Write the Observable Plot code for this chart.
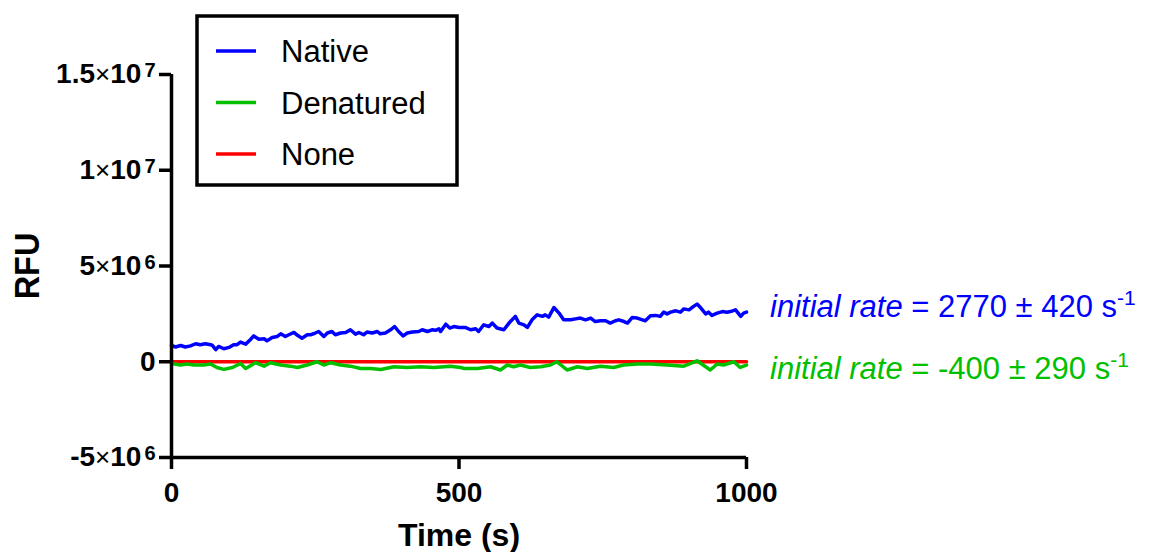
<!DOCTYPE html>
<html><head><meta charset="utf-8">
<script src="https://cdn.jsdelivr.net/npm/d3@7"></script>
<script src="https://cdn.jsdelivr.net/npm/@observablehq/plot@0.6"></script>
<style>
html,body{margin:0;padding:0;background:#fff;}
#chart{width:1151px;height:552px;}
</style>
</head><body><div id="chart"></div>
<script>
const seriesNames = ["Native", "Denatured", "None"];
const seriesColors = ["#0000ff", "#00c000", "#ff0000"];

const nativeTime = [0,7,16,24,33,42,50,59,68,71,77,82,91,100,108,114,120,129,137,143,152,161,166,175,184,190,198,204,213,219,227,236,
  242,250,256,265,271,279,285,294,303,311,320,326,334,340,349,358,363,372,381,388,395,403,410,419,430,436,445,453,459,465,468,477,484,491,500,
  511,520,529,534,543,552,558,566,578,587,598,604,613,619,627,636,645,650,656,665,674,682,694,703,711,720,729,737,
  746,755,763,772,778,787,793,801,810,819,824,833,842,850,856,862,868,877,885,891,900,908,914,920,929,934,940,949,958,966,972,981,990,995,1000];
const nativeRFU = [0.85,0.77,0.85,0.77,0.83,0.94,0.89,0.94,0.89,0.85,0.63,0.80,0.68,0.75,0.89,0.89,1.03,0.92,1.15,1.35,1.18,1.20,1.09,1.27,1.32,1.46,1.32,1.41,1.53,1.38,1.23,1.41,
  1.41,1.50,1.58,1.32,1.50,1.58,1.41,1.50,1.53,1.67,1.44,1.53,1.41,1.55,1.50,1.58,1.46,1.50,1.67,1.84,1.58,1.35,1.50,1.55,1.58,1.67,1.58,1.67,1.64,1.72,1.58,1.96,1.76,1.84,1.79,
  1.79,1.67,1.72,1.58,1.93,1.84,2.02,1.76,1.67,2.02,2.37,2.02,1.93,1.79,2.19,2.45,2.37,2.45,2.33,2.83,2.54,2.19,2.19,2.24,2.28,2.19,2.28,2.10,
  2.14,2.14,2.02,2.14,2.19,2.10,2.02,2.31,2.28,2.19,2.14,2.40,2.42,2.37,2.59,2.50,2.59,2.66,2.59,2.76,2.71,2.89,3.01,2.83,2.50,2.59,2.42,2.54,2.62,2.59,2.62,2.71,2.37,2.54,2.59];

const denaturedTime = [0,16,27,39,56,68,79,91,106,120,129,146,161,172,190,207,219,236,253,265,277,294,311,329,346,364,387,410,433,456,474,485,503,508,532,555,572,584,595,607,624,642,659,670,688,706,723,746,769,786,810,833,862,891,914,937,949,960,978,989,1000];
const denaturedRFU = [-0.09,-0.17,-0.12,-0.17,-0.17,-0.12,-0.30,-0.40,-0.30,-0.09,-0.35,-0.05,-0.23,-0.05,-0.17,-0.23,-0.30,-0.17,0,-0.17,-0.05,-0.17,-0.23,-0.35,-0.35,-0.40,-0.26,-0.30,-0.26,-0.30,-0.26,-0.23,-0.30,-0.35,-0.35,-0.26,-0.43,-0.17,-0.26,-0.17,-0.30,-0.26,-0.17,0,-0.43,-0.26,-0.35,-0.23,-0.30,-0.17,-0.12,-0.12,-0.17,-0.23,0.05,-0.43,-0.12,-0.17,0,-0.30,-0.17];

const noneTime = [0, 1000];
const noneRFU = [0, 0];

const rfuUnit = 1e6;
const yTicks = [-5e6, 0, 5e6, 1e7, 1.5e7];
const yTickLabels = ["-5×10^6", "0", "5×10^6", "1×10^7", "1.5×10^7"];
const xTicks = [0, 500, 1000];
const xLabel = "Time (s)";
const yLabel = "RFU";
const rateLabels = ["2770 ± 420", "-400 ± 290"];
const rateColors = ["#0000ff", "#00c000"];

const rows = [];
noneTime.forEach((t, i) => rows.push({series: "None", t, rfu: noneRFU[i] * rfuUnit}));
denaturedTime.forEach((t, i) => rows.push({series: "Denatured", t, rfu: denaturedRFU[i] * rfuUnit}));
nativeTime.forEach((t, i) => rows.push({series: "Native", t, rfu: nativeRFU[i] * rfuUnit}));

const font = "'Liberation Sans',Arial,sans-serif";

const plot = Plot.plot({
  width: 1151, height: 552,
  marginLeft: 171, marginRight: 405, marginTop: 74, marginBottom: 95,
  style: {fontFamily: font, background: "#fff", overflow: "visible", color: "#000"},
  x: {domain: [0, 1000]},
  y: {domain: [-5e6, 1.5e7]},
  color: {domain: seriesNames, range: seriesColors},
  marks: [
    Plot.line(rows, {x: "t", y: "rfu", z: "series", stroke: "series", strokeWidth: 3.5}),
    Plot.ruleX([0], {y1: -5e6, y2: 1.5e7, strokeWidth: 3.5, stroke: "#000"}),
    Plot.ruleY([-5e6], {x1: 0, x2: 1000, strokeWidth: 3.5, stroke: "#000"}),
    Plot.axisY({ticks: yTicks, tickSize: 12, tickPadding: 4, strokeWidth: 3.5, fontSize: 28, fontWeight: "bold",
      tickFormat: d => yTickLabels[yTicks.indexOf(d)], label: null}),
    Plot.axisX({ticks: xTicks, tickSize: 12, tickPadding: 13, strokeWidth: 3.5, fontSize: 28, fontWeight: "bold",
      tickFormat: d => String(d), label: null}),
    Plot.text([yLabel], {text: d => d, frameAnchor: "left", dx: -144, rotate: -90, fontSize: 36, fontWeight: "bold", lineAnchor: "middle", textAnchor: "middle"}),
    Plot.text([xLabel], {text: d => d, frameAnchor: "bottom", dy: 78, fontSize: 32, fontWeight: "bold", lineAnchor: "middle", textAnchor: "middle"})
  ]
});
document.getElementById("chart").appendChild(plot);

const svg = d3.select(plot);
// superscripts in y tick labels
svg.selectAll('g[aria-label="y-axis tick label"] text').each(function() {
  const el = d3.select(this);
  const s = el.text();
  if (!s.includes("^")) return;
  const [base, exp] = s.split("^");
  const [mant, ten] = base.split("×");
  el.text(null);
  el.append("tspan").text(mant);
  el.append("tspan").attr("font-weight", "normal").attr("font-size", 26).text("×");
  el.append("tspan").text(ten);
  el.append("tspan").attr("font-size", 20).attr("dx", 3).attr("dy", -6).text(exp);
});
// slightly condensed rotated axis title
svg.selectAll('g[aria-label="text"] text').each(function() {
  if (this.textContent !== yLabel) return;
  const tr = this.getAttribute("transform");
  if (tr) this.setAttribute("transform", tr + " scale(0.9,1)");
});

// legend
const lg = svg.append("g").attr("text-anchor", "start");
lg.append("rect").attr("x", 197).attr("y", 16).attr("width", 260).attr("height", 169)
  .attr("fill", "#fff").attr("stroke", "#000").attr("stroke-width", 3.5);
seriesNames.forEach((name, i) => {
  const cy = 51 + i * 51.5;
  lg.append("line").attr("x1", 216).attr("x2", 256).attr("y1", cy).attr("y2", cy)
    .attr("stroke", seriesColors[i]).attr("stroke-width", 3.5);
  lg.append("text").attr("x", 281).attr("y", cy + 11).attr("font-family", font)
    .attr("font-size", 31).attr("fill", "#000").text(name);
});

// rate annotations
const xs = plot.scale("x");
const ax = xs.apply(1000) + 24;
const baselines = [317, 379];
const ag = svg.append("g").attr("text-anchor", "start");
rateLabels.forEach((lab, i) => {
  const t = ag.append("text").attr("x", ax).attr("y", baselines[i]).attr("font-family", font)
    .attr("font-size", 31).attr("fill", rateColors[i]);
  t.append("tspan").attr("font-style", "italic").text("initial rate");
  t.append("tspan").text(" = " + lab + " s");
  t.append("tspan").attr("font-size", 21).attr("dy", -12).text("-1");
});
</script>
</body></html>
